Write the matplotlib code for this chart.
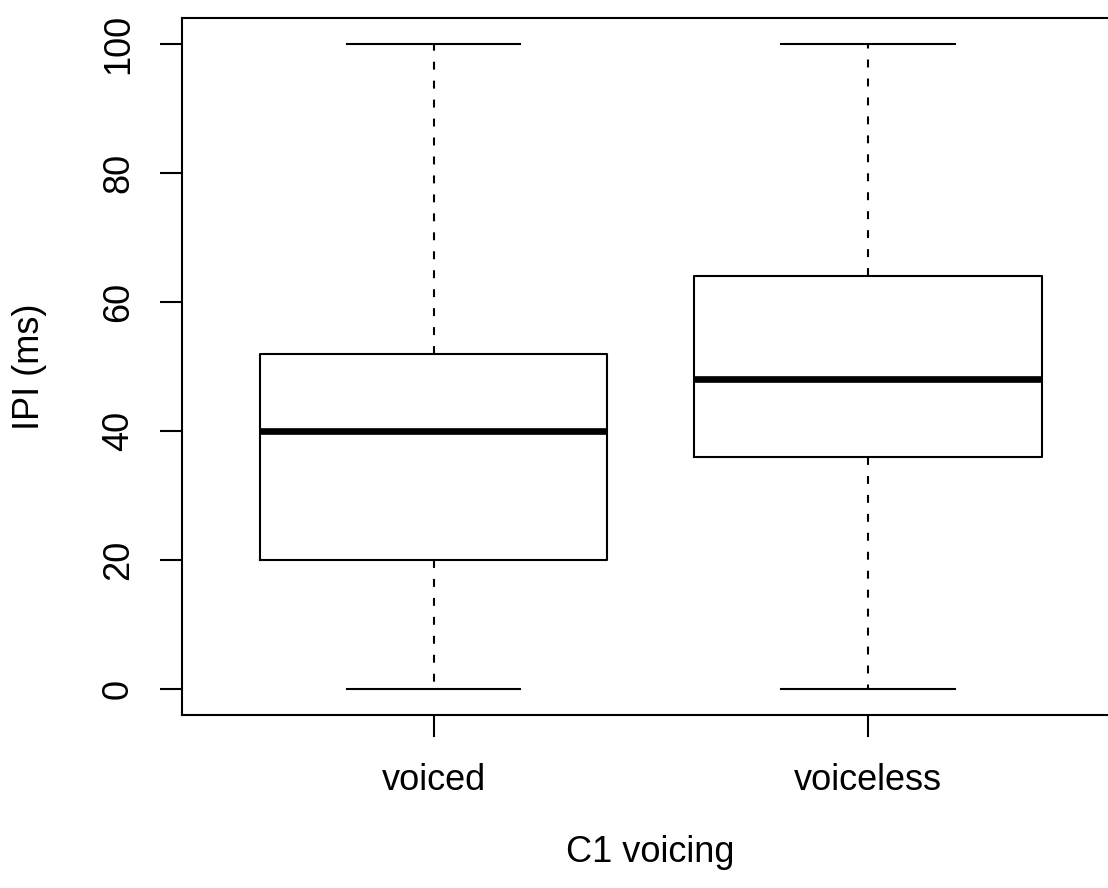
import matplotlib
matplotlib.use("Agg")
import matplotlib.pyplot as plt

# summary stats
groups = ["voiced", "voiceless"]
whislo = [0, 0]
q1 = [20, 36]
med = [40, 48]
q3 = [52, 64]
whishi = [100, 100]
yticks = [0, 20, 40, 60, 80, 100]

plt.rcParams["font.family"] = ["Liberation Sans", "DejaVu Sans"]
fs = 26

fig = plt.figure(figsize=(11.08, 8.88), dpi=100)
W, H = 1108, 888
ax = fig.add_axes([181.5 / W, (H - 714.5) / H, (1120 - 181.5) / W, (714.5 - 18.5) / H])

stats = [dict(label=g, whislo=a, q1=b, med=c, q3=d, whishi=e)
         for g, a, b, c, d, e in zip(groups, whislo, q1, med, q3, whishi)]

ax.bxp(stats, positions=[1, 2], widths=0.8, capwidths=0.4, showfliers=False,
       boxprops=dict(color="black", linewidth=1.5),
       medianprops=dict(color="black", linewidth=4.8, solid_capstyle="butt"),
       whiskerprops=dict(color="black", linewidth=1.5, linestyle=(0, (3.8, 5.3))),
       capprops=dict(color="black", linewidth=1.5))

ax.set_xlim(0.42, 2.58)
ax.set_ylim(-4, 104)
ax.set_yticks(yticks)
ax.set_yticklabels([str(v) for v in yticks], rotation=90, va="center", fontsize=fs)
ax.set_xticks([1, 2])
ax.set_xticklabels(groups, fontsize=fs)
ax.tick_params(axis="both", direction="out", length=15.8, width=1.5, color="black")
ax.tick_params(axis="x", pad=19)
ax.tick_params(axis="y", pad=17)
for s in ax.spines.values():
    s.set_linewidth(1.5)

ax.set_xlabel("C1 voicing", fontsize=fs)
ax.set_ylabel("IPI (ms)", fontsize=fs)
ax.xaxis.set_label_coords((650 - 181.5) / (1120 - 181.5), -(852 - 714.5) / (714.5 - 18.5))
ax.xaxis.label.set_va("center")
ax.yaxis.set_label_coords(-(181.5 - 30) / (1120 - 181.5), 0.5)
ax.yaxis.label.set_va("center")

fig.savefig("out.png", dpi=100)
